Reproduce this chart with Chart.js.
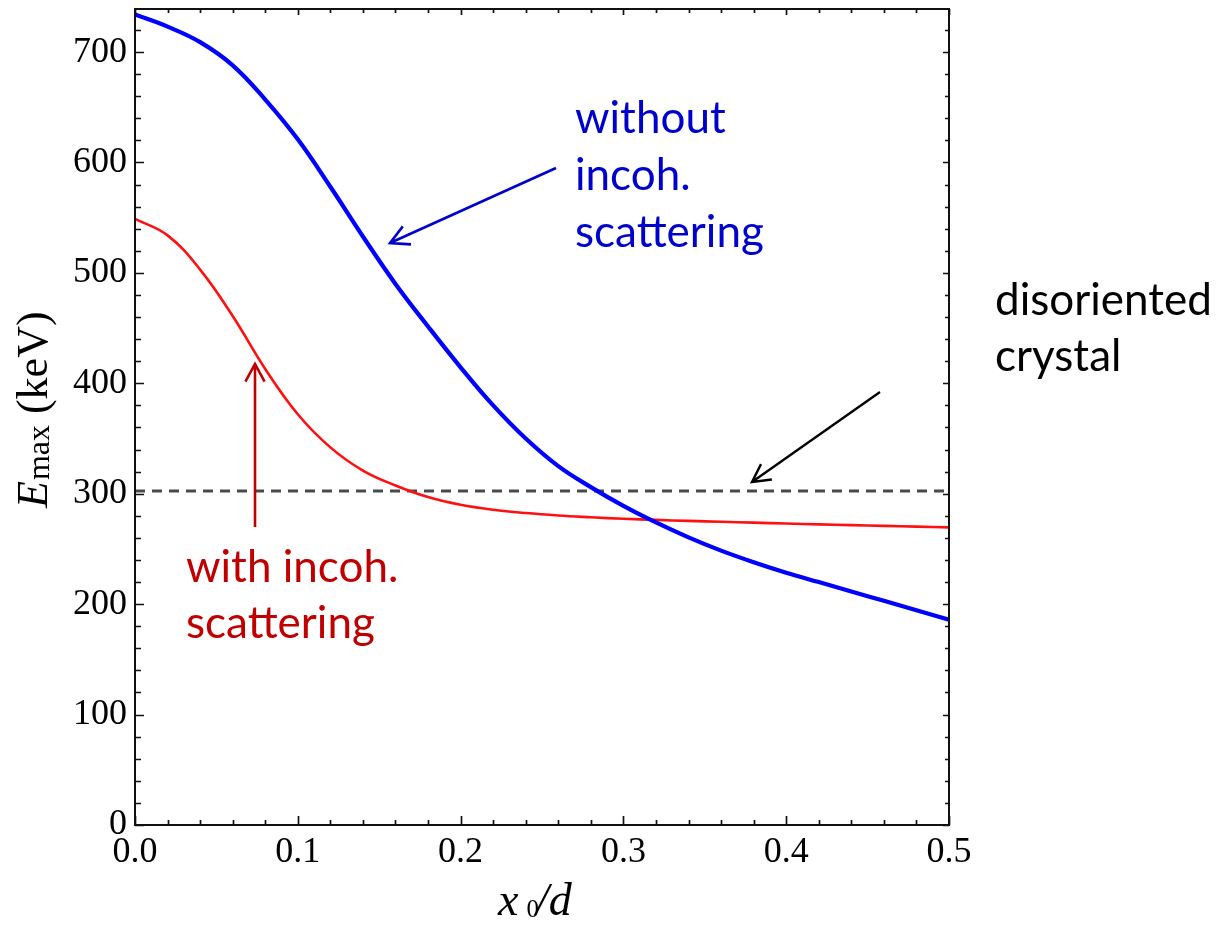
<!DOCTYPE html>
<html>
<head>
<meta charset="utf-8">
<script src="https://cdn.jsdelivr.net/npm/chart.js@4/dist/chart.umd.min.js"></script>
<style>
  html, body { margin: 0; padding: 0; background: #fff; }
  #wrap { width: 1218px; height: 926px; position: relative; }
</style>
</head>
<body>
<div id="wrap"><canvas id="c"></canvas></div>
<script>
// x0/d sample positions
const x0 = [0.00, 0.02, 0.04, 0.06, 0.08, 0.10, 0.12, 0.14, 0.16, 0.18, 0.20, 0.22, 0.24,
            0.26, 0.28, 0.30, 0.32, 0.34, 0.36, 0.38, 0.40, 0.42, 0.44, 0.46, 0.48, 0.50];
// E_max (keV) without incoherent scattering
const withoutIncoh = [734, 723, 709, 688, 657, 621, 578, 533, 490, 451.5, 414.5, 380, 350,
                      325, 306, 289, 274, 260.5, 248.5, 238, 228.5, 220, 211.5, 203, 194.5, 186];
// E_max (keV) with incoherent scattering
const withIncoh = [549, 534, 503, 461, 413, 372, 342, 321, 307.5, 297, 290, 285.5, 282.5,
                   280.3, 278.7, 277.3, 276.3, 275.4, 274.6, 273.8, 273, 272.3, 271.6, 270.9, 270.2, 269.5];
// E_max (keV) for a disoriented crystal
const disorientedLevel = 302.5;

const xTicks = [0, 0.1, 0.2, 0.3, 0.4, 0.5];
const xTickLabels = ['0.0', '0.1', '0.2', '0.3', '0.4', '0.5'];
const yTicks = [0, 100, 200, 300, 400, 500, 600, 700];
const yTickLabels = ['0', '100', '200', '300', '400', '500', '600', '700'];
const yMax = 739;

const SERIF = '"Liberation Serif", "Times New Roman", serif';
const SANS = 'Lato, "Open Sans", sans-serif';

function pts(xs, ys) { return xs.map((x, i) => ({ x: x, y: ys[i] })); }

// Mathematica-style frame with inward major/minor ticks on all four sides
const framePlugin = {
  id: 'frame',
  afterDatasetsDraw(chart) {
    const { ctx, chartArea: a, scales: { x, y } } = chart;
    ctx.save();
    ctx.strokeStyle = '#111';
    ctx.lineWidth = 2;
    ctx.strokeRect(a.left, a.top, a.right - a.left, a.bottom - a.top);
    ctx.lineWidth = 1.7;
    ctx.beginPath();
    for (let i = 0; i <= 25; i++) {
      const px = Math.round(x.getPixelForValue(i * 0.02)) + 0.5;
      const major = i % 5 === 0;
      ctx.moveTo(px, a.bottom); ctx.lineTo(px, a.bottom - (major ? 9 : 5));
      ctx.moveTo(px, a.top); ctx.lineTo(px, a.top + (major ? 6 : 4));
    }
    for (let v = 0; v <= yMax; v += 20) {
      const py = Math.round(y.getPixelForValue(v)) + 0.5;
      const major = v % 100 === 0;
      ctx.moveTo(a.left, py); ctx.lineTo(a.left + (major ? 9 : 6), py);
      ctx.moveTo(a.right, py); ctx.lineTo(a.right - (major ? 6 : 4), py);
    }
    ctx.stroke();
    ctx.restore();
  }
};

function arrow(ctx, x1, y1, x2, y2, color, w, len, spread) {
  const ang = Math.atan2(y2 - y1, x2 - x1);
  ctx.strokeStyle = color;
  ctx.lineWidth = w;
  ctx.lineCap = 'butt';
  ctx.lineJoin = 'miter';
  ctx.beginPath();
  ctx.moveTo(x1, y1); ctx.lineTo(x2, y2);
  ctx.moveTo(x2 - len * Math.cos(ang - spread), y2 - len * Math.sin(ang - spread));
  ctx.lineTo(x2, y2);
  ctx.lineTo(x2 - len * Math.cos(ang + spread), y2 - len * Math.sin(ang + spread));
  ctx.stroke();
}

// Axis titles with italic/subscript parts, plus callouts
const labelPlugin = {
  id: 'labels',
  afterDraw(chart) {
    const { ctx } = chart;
    ctx.save();
    ctx.fillStyle = '#000';
    ctx.textBaseline = 'alphabetic';
    ctx.textAlign = 'left';

    // x title: x0/d
    let cx = 498, by = 915;
    ctx.font = 'italic 46px ' + SERIF;
    ctx.fillText('x', cx, by);
    cx += ctx.measureText('x').width + 8;
    ctx.font = '25px ' + SERIF;
    ctx.fillText('0', cx, by + 2);
    cx += ctx.measureText('0').width - 3;
    ctx.font = 'italic 46px ' + SERIF;
    ctx.fillText('/d', cx, by);

    // y title: E_max (keV), rotated
    ctx.translate(47, 508);
    ctx.rotate(-Math.PI / 2);
    let tx = 0;
    ctx.font = 'italic 44px ' + SERIF;
    ctx.fillText('E', tx, 0);
    tx += ctx.measureText('E').width + 1;
    ctx.font = '32px ' + SERIF;
    ctx.fillText('max', tx, 2);
    tx += ctx.measureText('max').width;
    ctx.font = '44px ' + SERIF;
    ctx.fillText(' (keV)', tx, 0);
    ctx.setTransform(1, 0, 0, 1, 0, 0);

    // callouts
    ctx.font = '44px ' + SANS;
    ctx.fillStyle = '#0000cc';
    ctx.fillText('without', 575, 133);
    ctx.fillText('incoh.', 575, 190);
    ctx.fillText('scattering', 575, 247);
    arrow(ctx, 556, 168, 390, 243, '#0000cc', 2.6, 21, 0.49);

    ctx.fillStyle = '#000';
    ctx.fillText('disoriented', 995, 315);
    ctx.fillText('crystal', 995, 371);
    arrow(ctx, 880, 392, 752, 482, '#000', 2.4, 20, 0.49);

    ctx.fillStyle = '#c00000';
    ctx.fillText('with incoh.', 186, 582);
    ctx.fillText('scattering', 186, 638);
    arrow(ctx, 255, 527, 255, 364, '#c00000', 2.6, 20, 0.5);
    ctx.restore();
  }
};

new Chart(document.getElementById('c'), {
  type: 'line',
  data: {
    datasets: [
      {
        label: 'without incoh. scattering',
        data: pts(x0, withoutIncoh),
        borderColor: '#0000ff',
        borderWidth: 4.2,
        pointRadius: 0,
        tension: 0.4,
        fill: false
      },
      {
        label: 'with incoh. scattering',
        data: pts(x0, withIncoh),
        borderColor: '#ff1010',
        borderWidth: 2.6,
        pointRadius: 0,
        tension: 0.4,
        fill: false
      },
      {
        label: 'disoriented crystal',
        data: [{ x: xTicks[0], y: disorientedLevel }, { x: xTicks[xTicks.length - 1], y: disorientedLevel }],
        borderColor: '#4a4a4a',
        borderWidth: 3,
        borderDash: [10, 7],
        pointRadius: 0,
        fill: false
      }
    ]
  },
  options: {
    responsive: true,
    maintainAspectRatio: false,
    animation: false,
    devicePixelRatio: 1,
    layout: { padding: { left: 0, right: 269, top: 9, bottom: 0 } },
    plugins: { legend: { display: false }, tooltip: { enabled: false } },
    scales: {
      x: {
        type: 'linear',
        min: 0,
        max: 0.5,
        grid: { display: false, drawTicks: false },
        border: { display: false },
        afterBuildTicks: s => { s.ticks = xTicks.map(v => ({ value: v })); },
        afterFit: s => { s.height = 101; s.paddingLeft = 0; s.paddingRight = 0; },
        ticks: {
          padding: 6,
          color: '#000',
          font: { family: SERIF, size: 36 },
          maxRotation: 0,
          autoSkip: false,
          callback: v => xTickLabels[xTicks.indexOf(v)]
        }
      },
      y: {
        type: 'linear',
        min: 0,
        max: yMax,
        grid: { display: false, drawTicks: false },
        border: { display: false },
        afterBuildTicks: s => { s.ticks = yTicks.map(v => ({ value: v })); },
        afterFit: s => { s.width = 135; s.paddingTop = 0; s.paddingBottom = 0; },
        ticks: {
          padding: 8,
          color: '#000',
          font: { family: SERIF, size: 36 },
          autoSkip: false,
          callback: v => yTickLabels[yTicks.indexOf(v)]
        }
      }
    }
  },
  plugins: [framePlugin, labelPlugin]
});
</script>
</body>
</html>
